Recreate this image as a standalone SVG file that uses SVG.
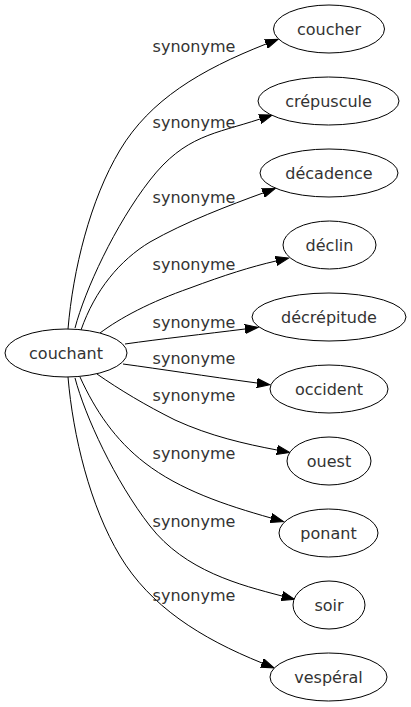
<svg xmlns="http://www.w3.org/2000/svg" width="411" height="707" viewBox="0 0 411 707">
<style>
.node ellipse{fill:#fff;stroke:#000;stroke-width:1}
.node text{font-family:"DejaVu Sans",Verdana,sans-serif;font-size:16px;fill:#333;text-anchor:middle}
.edges path{fill:none;stroke:#000;stroke-width:1;marker-end:url(#arrow)}
.edges text{font-family:"DejaVu Sans",Verdana,sans-serif;font-size:16px;fill:#333;text-anchor:middle}
</style>
<defs>
<marker id="arrow" markerUnits="userSpaceOnUse" markerWidth="14" markerHeight="10" refX="0" refY="5" viewBox="0 0 14 10" orient="auto">
<path d="M0,0.4 L13,5 L0,9.6 z" fill="#000" stroke="#000" stroke-width="1"/>
</marker>
</defs>
<rect width="411" height="707" fill="#fff"/>
<g id="edges" class="edges">
<path d="M68,329 C73,270 90,200 120,150 C150,100 200,70 266,44"/>
<text x="194" y="51.5">synonyme</text>
<path d="M75,328 C85,290 115,225 150,180 C185,135 215,134 260,119"/>
<text x="194" y="127.5">synonyme</text>
<path d="M81,330 C95,290 120,260 150,242 C185,222 230,205 263,193"/>
<text x="194" y="202.5">synonyme</text>
<path d="M100,333 C120,318 150,302 190,288 C225,275 250,267 276,261"/>
<text x="194" y="269.5">synonyme</text>
<path d="M125,344 C160,339 205,334 245,329"/>
<text x="194" y="327.5">synonyme</text>
<path d="M123,364 C160,369 205,376 257,383"/>
<text x="194" y="363.5">synonyme</text>
<path d="M97,374 C120,390 145,405 175,420 C210,436 245,444 277,450"/>
<text x="194" y="400.5">synonyme</text>
<path d="M80,377 C95,410 115,440 145,463 C180,490 225,505 271,518"/>
<text x="194" y="458.5">synonyme</text>
<path d="M75,378 C85,416 115,481 150,526 C185,571 240,585 282,596"/>
<text x="194" y="526.5">synonyme</text>
<path d="M68,377 C73,436 90,506 120,556 C150,606 200,638 262,663"/>
<text x="194" y="600.5">synonyme</text>
</g>
<g id="couchant" class="node"><ellipse cx="66" cy="353" rx="61" ry="24"/><text x="66" y="358.5">couchant</text></g>
<g id="coucher" class="node"><ellipse cx="329" cy="29" rx="55.5" ry="24"/><text x="329" y="34.5">coucher</text></g>
<g id="crepuscule" class="node"><ellipse cx="328.5" cy="101" rx="70.5" ry="24"/><text x="328.5" y="106.5">crépuscule</text></g>
<g id="decadence" class="node"><ellipse cx="329" cy="173" rx="69" ry="24"/><text x="329" y="178.5">décadence</text></g>
<g id="declin" class="node"><ellipse cx="329.5" cy="245" rx="46.5" ry="24"/><text x="329.5" y="250.5">déclin</text></g>
<g id="decrepitude" class="node"><ellipse cx="329" cy="317" rx="77" ry="24"/><text x="329" y="322.5">décrépitude</text></g>
<g id="occident" class="node"><ellipse cx="329" cy="389" rx="59" ry="24"/><text x="329" y="394.5">occident</text></g>
<g id="ouest" class="node"><ellipse cx="329" cy="461" rx="42" ry="24"/><text x="329" y="466.5">ouest</text></g>
<g id="ponant" class="node"><ellipse cx="328.5" cy="533" rx="49.5" ry="24"/><text x="328.5" y="538.5">ponant</text></g>
<g id="soir" class="node"><ellipse cx="329" cy="605" rx="36" ry="24"/><text x="329" y="610.5">soir</text></g>
<g id="vesperal" class="node"><ellipse cx="328.5" cy="677" rx="58.5" ry="24"/><text x="328.5" y="682.5">vespéral</text></g>
</svg>
